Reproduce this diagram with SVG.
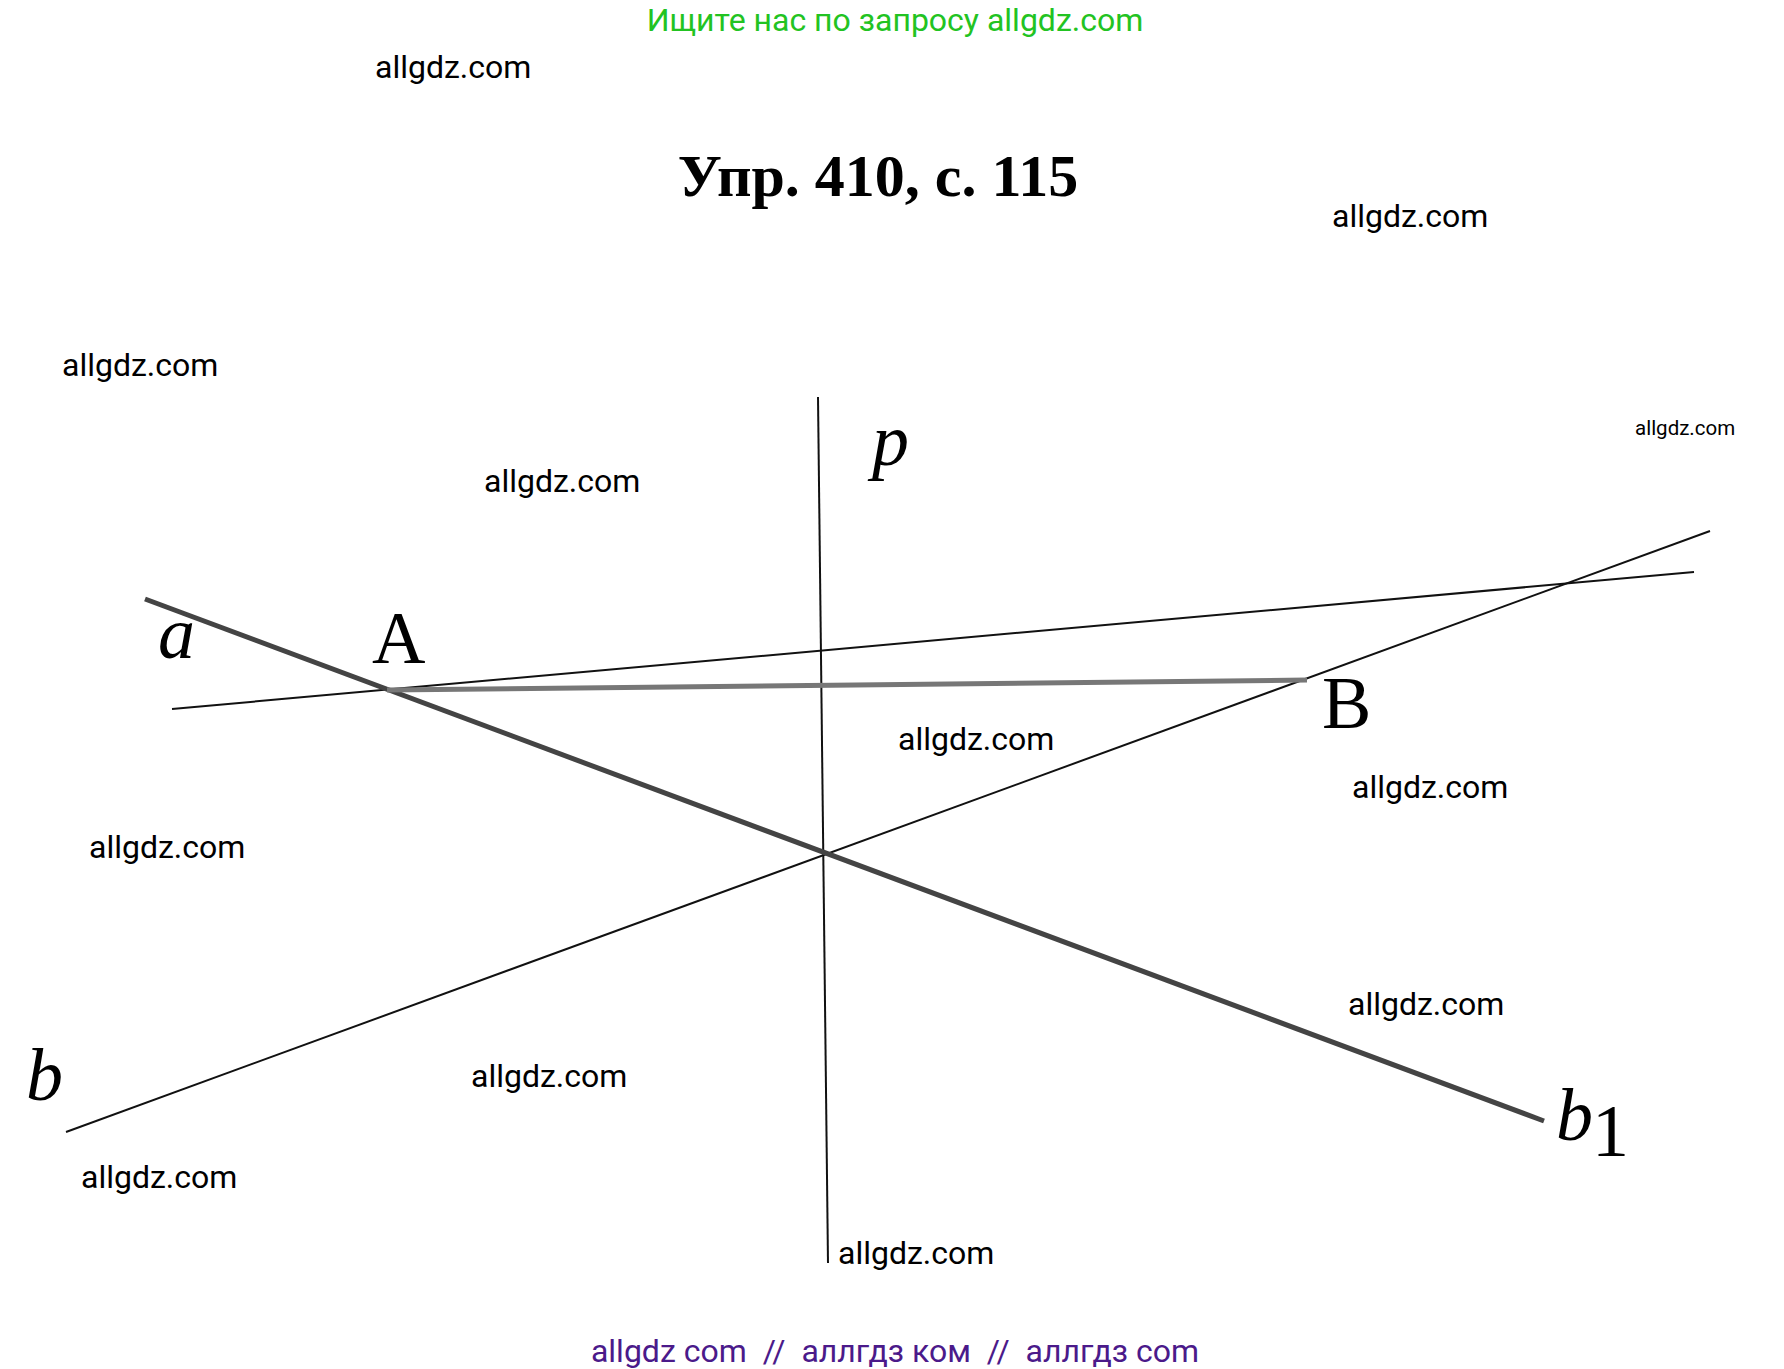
<svg xmlns="http://www.w3.org/2000/svg" width="1784" height="1369" viewBox="0 0 1784 1369">
<style>
.w{font-family:Roboto,"Liberation Sans",sans-serif;font-size:32px;fill:#000}
.s{font-size:20.5px}
.m{font-family:"Liberation Serif",serif;font-size:74px;fill:#000}
.i{font-style:italic}
</style>
<rect width="1784" height="1369" fill="#fff"/>
<text x="895" y="31" text-anchor="middle" font-family="Roboto,sans-serif" font-size="32" fill="#22c322">Ищите нас по запросу allgdz.com</text>
<text x="878" y="196" text-anchor="middle" font-family="Liberation Serif,serif" font-weight="bold" font-size="60">Упр. 410, с. 115</text>
<g id="connectors">
<line x1="818" y1="397" x2="828" y2="1263" stroke="#111" stroke-width="2"/>
<line x1="172" y1="709" x2="1694" y2="572" stroke="#111" stroke-width="2"/>
<line x1="66" y1="1132" x2="1710" y2="531" stroke="#111" stroke-width="2"/>
<line x1="145" y1="599" x2="1544" y2="1121" stroke="#444" stroke-width="5"/>
<line x1="387" y1="690" x2="1307" y2="680" stroke="#777" stroke-width="5"/>
</g>
<g id="labels">
<text class="m i" x="158" y="658">a</text>
<text class="m" x="372" y="663">A</text>
<text class="m i" x="872" y="465">p</text>
<text class="m" x="1322" y="728">B</text>
<text class="m i" x="26" y="1100">b</text>
<text class="m i" x="1556" y="1140">b</text>
<text class="m" x="1592" y="1156" font-size="50">1</text>
</g>
<g id="watermarks">
<text class="w" x="375" y="78">allgdz.com</text>
<text class="w" x="1332" y="227">allgdz.com</text>
<text class="w" x="62" y="376">allgdz.com</text>
<text class="w" x="484" y="492">allgdz.com</text>
<text class="w" x="898" y="750">allgdz.com</text>
<text class="w" x="1352" y="798">allgdz.com</text>
<text class="w" x="89" y="858">allgdz.com</text>
<text class="w" x="1348" y="1015">allgdz.com</text>
<text class="w" x="471" y="1087">allgdz.com</text>
<text class="w" x="81" y="1188">allgdz.com</text>
<text class="w" x="838" y="1264">allgdz.com</text>
<text class="w s" x="1635" y="435">allgdz.com</text>
</g>
<text x="895" y="1362" text-anchor="middle" font-family="Roboto,sans-serif" font-size="32" fill="#4b1a8a" style="white-space:pre">allgdz com  //  аллгдз ком  //  аллгдз com</text>
</svg>
